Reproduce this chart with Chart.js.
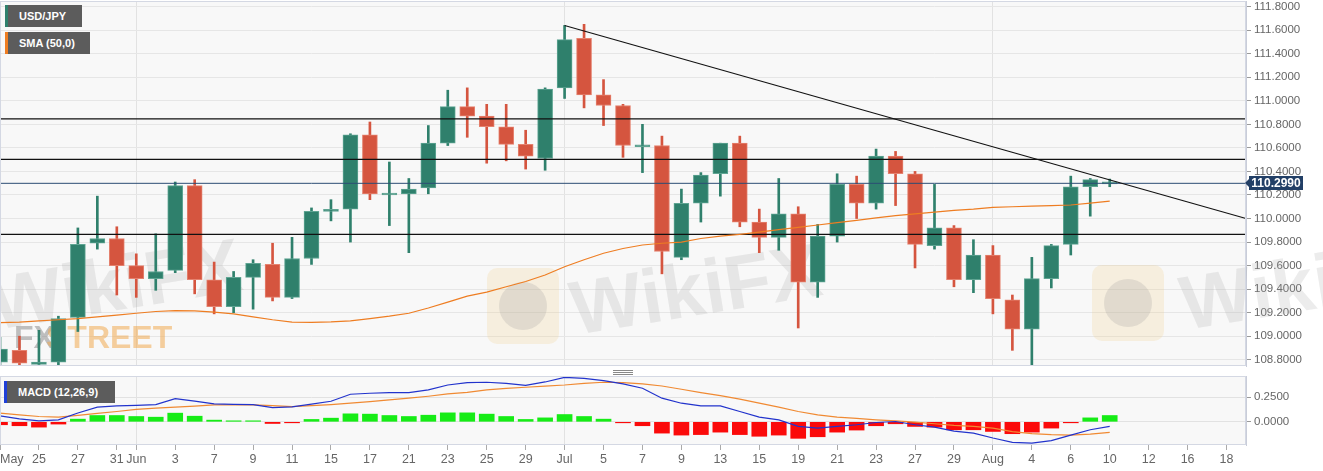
<!DOCTYPE html>
<html>
<head>
<meta charset="utf-8">
<script src="https://cdn.jsdelivr.net/npm/chart.js@4.4.1/dist/chart.umd.min.js"></script>
<style>
  html, body { margin: 0; padding: 0; background: #fff; }
  #wrap { position: relative; width: 1323px; height: 471px; overflow: hidden; font-family: "Liberation Sans", Arial, sans-serif; }
  #priceChart { position: absolute; left: 0; top: 0; }
  #macdChart { position: absolute; left: 0; top: 370px; }
  .tag { position: absolute; height: 22px; line-height: 22px; background: #5c5c5c; color: #fff; font-weight: bold; font-size: 11px; padding-left: 11px; box-sizing: border-box; border-left: 3px solid; white-space: nowrap; }
</style>
</head>
<body>
<div id="wrap">
  <canvas id="priceChart" width="1323" height="370"></canvas>
  <canvas id="macdChart" width="1323" height="101"></canvas>
  <div class="tag" style="left:5px;top:5px;width:77px;border-color:#2f806c">USD/JPY</div>
  <div class="tag" style="left:5px;top:32px;width:85px;border-color:#ee7d22">SMA (50,0)</div>
  <div class="tag" style="left:4px;top:381px;width:111px;border-color:#1f3fd8">MACD (12,26,9)</div>
</div>
<script>
const dates = ['May 21','May 24','May 25','May 26','May 27','May 28','May 31',
  'Jun 1','Jun 2','Jun 3','Jun 4','Jun 7','Jun 8','Jun 9','Jun 10','Jun 11','Jun 14','Jun 15','Jun 16','Jun 17','Jun 18',
  'Jun 21','Jun 22','Jun 23','Jun 24','Jun 25','Jun 28','Jun 29','Jun 30',
  'Jul 1','Jul 2','Jul 5','Jul 6','Jul 7','Jul 8','Jul 9','Jul 12','Jul 13','Jul 14','Jul 15','Jul 16','Jul 19','Jul 20',
  'Jul 21','Jul 22','Jul 23','Jul 26','Jul 27','Jul 28','Jul 29','Jul 30',
  'Aug 2','Aug 3','Aug 4','Aug 5','Aug 6','Aug 9','Aug 10','Aug 11','Aug 12','Aug 13','Aug 16','Aug 17','Aug 18','Aug 19'];

const axisLabels = ['May','','25','','27','','31','Jun','','3','','7','','9','','11','','15','','17','',
  '21','','23','','25','','29','','Jul','','5','','7','','9','','13','','15','','19','','21','','23','',
  '27','','29','','Aug','','4','','6','','10','','12','','16','','18',''];

const open = [108.78,108.88,108.76,108.78,109.16,109.79,109.83,109.60,109.49,109.56,110.28,109.48,109.25,109.50,109.61,109.33,
  109.66,110.06,110.08,110.71,110.20,110.21,110.26,110.64,110.95,110.87,110.78,110.63,110.51,111.11,111.53,111.05,110.96,110.61,
  110.62,109.67,110.13,110.38,110.64,109.97,109.84,110.04,109.46,109.85,110.29,110.13,110.53,110.38,109.77,109.92,109.48,109.69,
  109.31,109.06,109.49,109.78,110.27,110.294];
const high = [108.99,109.00,109.05,109.17,109.92,110.19,109.93,109.70,109.87,110.31,110.33,109.63,109.55,109.65,109.79,109.84,
  110.09,110.16,110.72,110.82,110.48,110.34,110.79,111.09,111.11,110.97,110.97,110.75,111.11,111.64,111.65,111.18,110.97,110.80,
  110.70,110.25,110.39,110.64,110.70,110.08,110.34,110.10,109.95,110.38,110.36,110.59,110.57,110.40,110.29,109.94,109.82,109.77,
  109.35,109.67,109.78,110.36,110.34,110.335];
const low = [108.75,108.73,108.74,108.74,109.04,109.74,109.35,109.33,109.39,109.54,109.36,109.19,109.20,109.23,109.30,109.32,
  109.61,109.98,109.80,110.16,109.94,109.71,110.21,110.62,110.69,110.47,110.49,110.42,110.41,111.02,110.94,110.79,110.52,110.39,
  109.53,109.65,109.97,110.19,109.93,109.71,109.73,109.07,109.33,109.80,110.00,110.08,110.11,109.58,109.74,109.42,109.37,109.19,
  108.88,108.74,109.41,109.69,110.02,110.27];
const close = [108.89,108.77,108.78,109.15,109.78,109.83,109.60,109.49,109.55,110.28,109.48,109.25,109.50,109.62,109.33,109.66,
  110.06,110.07,110.71,110.21,110.21,110.25,110.64,110.95,110.87,110.78,110.63,110.53,111.10,111.52,111.05,110.96,110.62,110.62,
  109.72,110.13,110.37,110.64,109.97,109.84,110.04,109.46,109.85,110.29,110.13,110.53,110.38,109.78,109.92,109.48,109.69,109.32,
  109.06,109.49,109.77,110.27,110.33,110.299];

const sma50 = [109.115,109.12,109.13,109.14,109.15,109.165,109.18,109.195,109.21,109.217,109.215,109.205,109.19,109.165,109.14,
  109.12,109.118,109.122,109.13,109.15,109.17,109.195,109.24,109.29,109.34,109.375,109.42,109.465,109.52,109.59,109.65,109.705,
  109.745,109.775,109.79,109.80,109.83,109.85,109.866,109.885,109.905,109.925,109.945,109.965,109.985,110.005,110.025,110.04,
  110.055,110.07,110.08,110.095,110.10,110.105,110.11,110.115,110.13,110.147];

const levels = [110.846, 110.503, 109.866];
const lastPrice = 110.299;
const trendStart = { x: 'Jul 1', y: 111.64 };
const trendEnd = { x: 'Aug 19', y: 110.0 };
const priceTicks = [108.8,109.0,109.2,109.4,109.6,109.8,110.0,110.2,110.4,110.6,110.8,111.0,111.2,111.4,111.6,111.8];

const macdLine = [0.061,0.03,0.01,0.02,0.09,0.149,0.162,0.168,0.175,0.236,0.21,0.182,0.178,0.175,0.145,0.152,0.18,0.209,
  0.28,0.29,0.297,0.297,0.324,0.374,0.398,0.402,0.391,0.371,0.405,0.452,0.442,0.418,0.385,0.341,0.24,0.189,0.162,0.162,
  0.105,0.047,0.02,-0.047,-0.064,-0.047,-0.03,-0.007,0.003,-0.03,-0.054,-0.095,-0.115,-0.165,-0.209,-0.216,-0.192,-0.135,
  -0.081,-0.047];
const signalLine = [0.088,0.07,0.054,0.047,0.065,0.085,0.105,0.127,0.14,0.149,0.16,0.172,0.172,0.172,0.165,0.155,0.165,0.175,
  0.189,0.205,0.223,0.24,0.26,0.283,0.30,0.324,0.34,0.351,0.362,0.374,0.391,0.402,0.398,0.385,0.364,0.331,0.297,0.266,
  0.23,0.189,0.149,0.105,0.071,0.047,0.034,0.02,0.01,-0.003,-0.02,-0.037,-0.047,-0.065,-0.10,-0.12,-0.13,-0.135,-0.125,-0.108];
const histogram = [-0.03,-0.04,-0.054,-0.023,0.027,0.064,0.064,0.054,0.047,0.088,0.057,0.017,0.005,0.005,-0.017,-0.007,0.024,
  0.037,0.081,0.078,0.064,0.054,0.067,0.091,0.091,0.078,0.054,0.024,0.04,0.074,0.054,0.027,-0.01,-0.04,-0.115,-0.135,-0.13,
  -0.105,-0.13,-0.147,-0.135,-0.168,-0.152,-0.105,-0.084,-0.04,-0.02,-0.047,-0.054,-0.081,-0.081,-0.098,-0.121,-0.105,-0.064,
  -0.005,0.04,0.064];
const macdTicks = [0, 0.25];

const UP = '#2f806c', DOWN = '#d5553f';
const FONT = '"Liberation Sans", Arial, sans-serif';
const isUp = close.map((c, i) => c >= open[i]);
const isMonth = (i) => i > 0 && /^[A-Z]/.test(axisLabels[i]);

// fixed-width right axis, no label overhang padding
function fixAxis(s) {
  s.width = 77;
  s.paddingTop = 0;
  s.paddingBottom = 0;
}

// light panel background + frame
const panel = {
  id: 'panel',
  beforeDraw(chart) {
    const { ctx, chartArea: a } = chart;
    ctx.save();
    ctx.fillStyle = '#f8f8f8';
    ctx.fillRect(a.left, a.top, a.right - a.left, a.bottom - a.top);
    ctx.restore();
  },
  afterDraw(chart) {
    const { ctx, chartArea: a } = chart;
    ctx.save();
    ctx.strokeStyle = '#d4d8e3';
    ctx.lineWidth = 1;
    ctx.strokeRect(a.left + 0.5, a.top + 0.5, a.right - a.left - 1, a.bottom - a.top - 1);
    ctx.restore();
  }
};

const watermark = {
  id: 'watermark',
  beforeDatasetsDraw(chart) {
    const c = chart.ctx;
    c.save();
    c.font = 'bold 76px ' + FONT;
    c.fillStyle = 'rgba(160,160,160,0.2)';
    [[-5, 330], [575, 335], [1185, 330]].forEach(([x, y]) => {
      c.save(); c.translate(x, y); c.rotate(-0.16); c.fillText('WikiFX', 0, 0); c.restore();
    });
    c.fillStyle = 'rgba(240,205,130,0.22)';
    [[487, 268], [1092, 265]].forEach(([x, y]) => {
      c.beginPath(); c.roundRect(x, y, 72, 76, 10); c.fill();
    });
    c.fillStyle = 'rgba(150,150,150,0.22)';
    [[523, 306], [1128, 303]].forEach(([x, y]) => {
      c.beginPath(); c.arc(x, y, 24, 0, Math.PI * 2); c.fill();
    });
    c.font = 'bold 32px ' + FONT;
    c.fillStyle = 'rgba(120,120,120,0.45)';
    c.fillText('FX', 14, 348);
    c.fillStyle = 'rgba(240,170,80,0.55)';
    c.fillText('STREET', 46, 348);
    c.restore();
  }
};

const priceTag = {
  id: 'priceTag',
  afterDraw(chart) {
    const c = chart.ctx;
    const y = Math.round(chart.scales.y.getPixelForValue(lastPrice));
    const x = chart.chartArea.right + 3;
    c.save();
    c.fillStyle = '#223f66';
    c.beginPath();
    c.moveTo(x - 4, y);
    c.lineTo(x, y - 4);
    c.lineTo(x, y - 7);
    c.lineTo(x + 54, y - 7);
    c.lineTo(x + 54, y + 7);
    c.lineTo(x, y + 7);
    c.lineTo(x, y + 4);
    c.closePath();
    c.fill();
    c.fillStyle = '#fff';
    c.font = 'bold 12px ' + FONT;
    c.textAlign = 'center';
    c.textBaseline = 'middle';
    c.fillText(lastPrice.toFixed(4), x + 27, y + 1);
    c.restore();
  }
};

const handle = {
  id: 'handle',
  afterDraw(chart) {
    const c = chart.ctx;
    c.save();
    c.strokeStyle = '#888';
    c.lineWidth = 1;
    [0.5, 2.5, 4.5].forEach((y) => {
      c.beginPath(); c.moveTo(613, y); c.lineTo(633, y); c.stroke();
    });
    c.restore();
  }
};

const levelSets = levels.map((v) => ({
  type: 'line',
  data: [{ x: dates[0], y: v }, { x: dates[dates.length - 1], y: v }],
  borderColor: '#111',
  borderWidth: 1.2,
  pointRadius: 0,
  order: 0
}));

const xTop = {
  type: 'category',
  offset: false,
  ticks: { display: false },
  grid: {
    offset: false,
    drawTicks: false,
    color: (ctx) => isMonth(ctx.index) ? '#e2e2e2' : 'rgba(0,0,0,0)'
  },
  border: { display: false },
  afterFit: (s) => { s.height = 0; }
};

new Chart(document.getElementById('priceChart'), {
  type: 'bar',
  data: {
    labels: dates,
    datasets: [
      {
        label: 'SMA (50,0)',
        type: 'line',
        data: sma50,
        borderColor: '#ee7d22',
        borderWidth: 1.2,
        pointRadius: 0,
        order: 0
      },
      {
        label: 'Trend',
        type: 'line',
        data: [trendStart, trendEnd],
        borderColor: '#111',
        borderWidth: 1.1,
        pointRadius: 0,
        order: 0
      },
      {
        label: 'Last',
        type: 'line',
        data: [{ x: dates[0], y: lastPrice }, { x: dates[dates.length - 1], y: lastPrice }],
        borderColor: '#2b4c74',
        borderWidth: 1,
        pointRadius: 0,
        order: 0
      },
      ...levelSets,
      {
        label: 'body',
        data: open.map((o, i) => [o, close[i]]),
        backgroundColor: isUp.map((u) => u ? UP : DOWN),
        borderColor: isUp.map((u) => u ? '#5fa593' : '#e5826f'),
        borderWidth: 1,
        borderSkipped: false,
        barThickness: 15,
        minBarLength: 2,
        grouped: false,
        order: 1
      },
      {
        label: 'wick',
        data: low.map((l, i) => [l, high[i]]),
        backgroundColor: isUp.map((u) => u ? UP : DOWN),
        barThickness: 2,
        grouped: false,
        order: 2
      }
    ]
  },
  options: {
    responsive: false,
    animation: false,
    layout: { autoPadding: false, padding: { top: 1, bottom: 4, left: 0, right: 0 } },
    plugins: { legend: { display: false }, tooltip: { enabled: false } },
    scales: {
      x: xTop,
      y: {
        position: 'right',
        min: 108.747,
        max: 111.848,
        afterBuildTicks: (s) => { s.ticks = priceTicks.map((v) => ({ value: v })); },
        afterFit: fixAxis,
        ticks: {
          padding: 3,
          color: '#666',
          font: { family: FONT, size: 11.5 },
          callback: (v) => Number(v).toFixed(4)
        },
        grid: { color: '#e6e6e6', tickLength: 5, tickColor: '#999' },
        border: { color: '#c9cdd9' }
      }
    }
  },
  plugins: [panel, watermark, priceTag]
});

new Chart(document.getElementById('macdChart'), {
  type: 'bar',
  data: {
    labels: dates,
    datasets: [
      {
        label: 'MACD',
        type: 'line',
        data: macdLine,
        borderColor: '#2233cc',
        borderWidth: 1.2,
        pointRadius: 0,
        order: 0
      },
      {
        label: 'Signal',
        type: 'line',
        data: signalLine,
        borderColor: '#f08a33',
        borderWidth: 1.2,
        pointRadius: 0,
        order: 0
      },
      {
        label: 'Histogram',
        data: histogram,
        backgroundColor: histogram.map((v) => v >= 0 ? '#16ec16' : '#fb0a0a'),
        barThickness: 15,
        minBarLength: 1,
        grouped: false,
        order: 1
      }
    ]
  },
  options: {
    responsive: false,
    animation: false,
    layout: { autoPadding: false, padding: { top: 6, bottom: 0, left: 0, right: 0 } },
    plugins: { legend: { display: false }, tooltip: { enabled: false } },
    scales: {
      x: {
        type: 'category',
        offset: false,
        afterFit: (s) => { s.height = 26; s.paddingLeft = 0; s.paddingRight = 0; },
        ticks: {
          autoSkip: false,
          maxRotation: 0,
          align: 'inner',
          padding: 2,
          color: '#666',
          font: { family: FONT, size: 12.5 },
          callback: (v, i) => axisLabels[i]
        },
        grid: {
          offset: false,
          tickLength: 5,
          color: (ctx) => isMonth(ctx.index) ? '#e2e2e2' : 'rgba(0,0,0,0)',
          tickColor: (ctx) => axisLabels[ctx.index] ? '#aaa' : 'rgba(0,0,0,0)'
        },
        border: { display: false }
      },
      y: {
        position: 'right',
        min: -0.2358,
        max: 0.4656,
        afterBuildTicks: (s) => { s.ticks = macdTicks.map((v) => ({ value: v })); },
        afterFit: fixAxis,
        ticks: {
          padding: 3,
          color: '#666',
          font: { family: FONT, size: 11.5 },
          callback: (v) => Number(v).toFixed(4)
        },
        grid: { color: '#e2e2e2', tickLength: 5, tickColor: '#999' },
        border: { color: '#c9cdd9' }
      }
    }
  },
  plugins: [panel, handle]
});
</script>
</body>
</html>
